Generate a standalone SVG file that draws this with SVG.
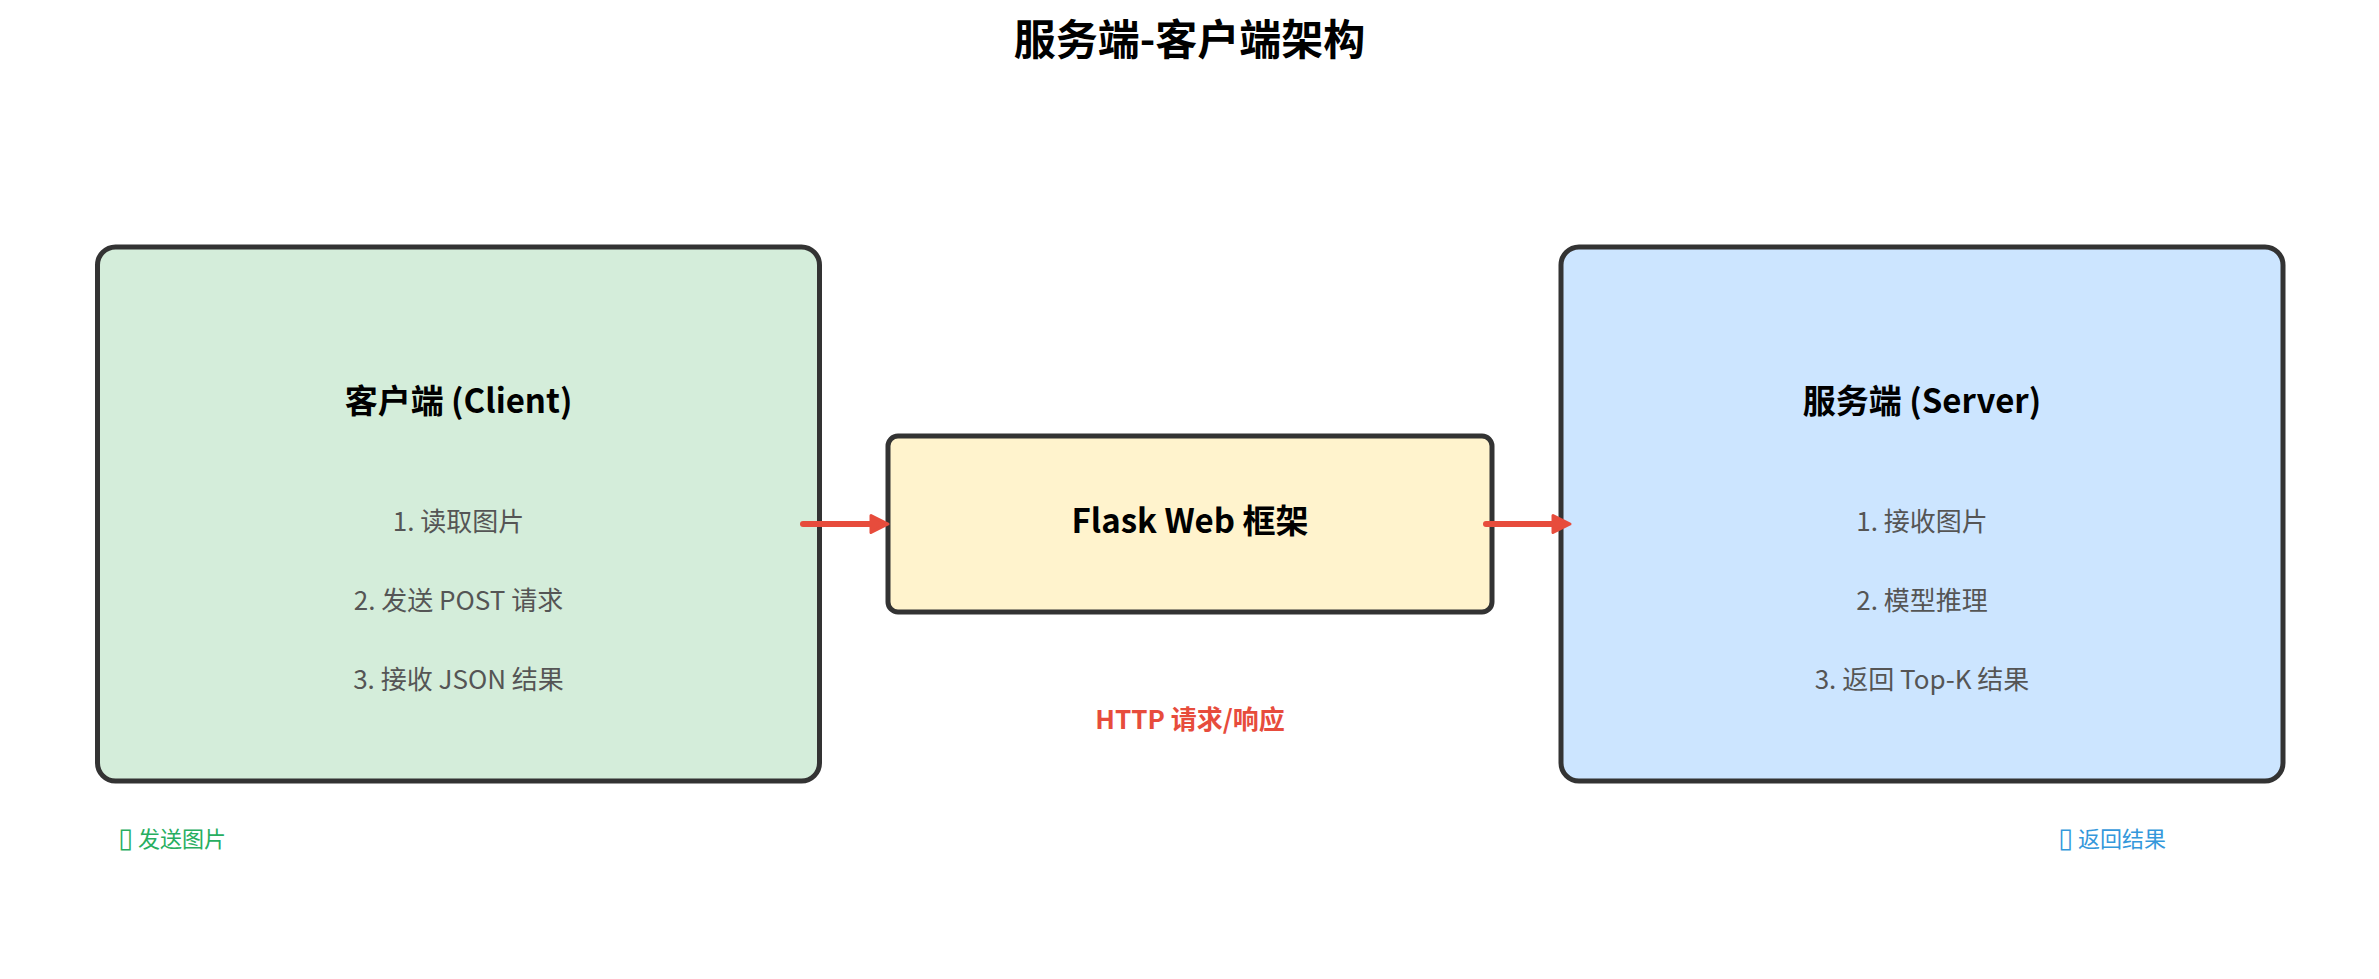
<svg xmlns="http://www.w3.org/2000/svg" width="2379" height="979" viewBox="0 0 2379 979">
<defs>
<style>
text{font-family:"Noto Sans CJK SC","Noto Sans",sans-serif;text-anchor:middle}
.box{stroke:#333333;stroke-width:5}
.title{font-size:42px;font-weight:bold;fill:#000}
.head{font-size:33px;font-weight:bold;fill:#000}
.item{font-size:26px;fill:#555555}
.conn{stroke:#e74c3c;stroke-width:6;stroke-linecap:round;fill:none}
.note{font-size:22px;text-anchor:end}
.tofu{font-family:"DejaVu Sans",sans-serif;font-size:27px}
</style>
<marker id="arr" viewBox="0 0 22 22" refX="8" refY="11" markerWidth="22" markerHeight="22" markerUnits="userSpaceOnUse" orient="auto">
<path d="M2,2.5 L19,11 L2,19.5 Z" fill="#e74c3c" stroke="#e74c3c" stroke-width="3" stroke-linejoin="round"/>
</marker>
</defs>
<rect width="2379" height="979" fill="#ffffff"/>
<text class="title" x="1189.5" y="55">服务端-客户端架构</text>
<g id="client">
<rect class="box" x="97.5" y="247" width="722" height="534" rx="18" fill="#d4edda"/>
<text class="head" x="458.5" y="413">客户端 (Client)</text>
<text class="item" x="458.5" y="531">1. 读取图片</text>
<text class="item" x="458.5" y="610">2. 发送 POST 请求</text>
<text class="item" x="458.5" y="689">3. 接收 JSON 结果</text>
</g>
<g id="flask">
<rect class="box" x="888" y="436" width="604" height="176" rx="10" fill="#fff3cd"/>
<text class="head" x="1190" y="533">Flask Web 框架</text>
</g>
<g id="server">
<rect class="box" x="1561" y="247" width="722" height="534" rx="18" fill="#cce5ff"/>
<text class="head" x="1922" y="413">服务端 (Server)</text>
<text class="item" x="1922" y="531">1. 接收图片</text>
<text class="item" x="1922" y="610">2. 模型推理</text>
<text class="item" x="1922" y="689">3. 返回 Top-K 结果</text>
</g>
<g id="connectors">
<line class="conn" x1="803" y1="524" x2="877" y2="524" marker-end="url(#arr)"/>
<line class="conn" x1="1486" y1="524" x2="1559" y2="524" marker-end="url(#arr)"/>
<text x="1190" y="729" font-size="26" font-weight="bold" fill="#e74c3c">HTTP 请求/响应</text>
</g>
<g id="notes">
<text class="note" x="226" y="847" fill="#27ae60"><tspan class="tofu">▯</tspan> 发送图片</text>
<text class="note" x="2166" y="847" fill="#3498db"><tspan class="tofu">▯</tspan> 返回结果</text>
</g>
</svg>
